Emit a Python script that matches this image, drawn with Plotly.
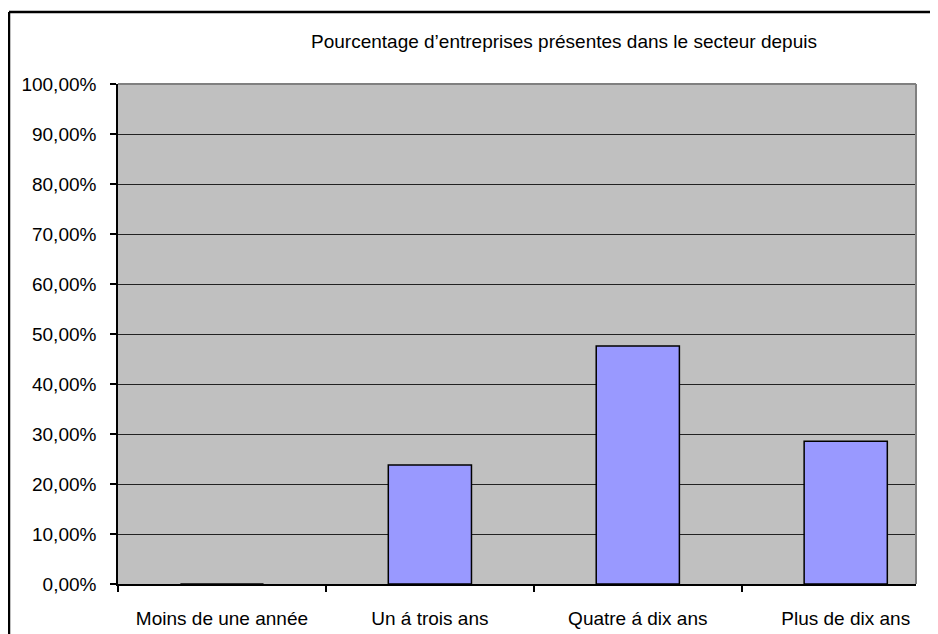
import plotly.graph_objects as go

categories = ['Moins de une année', 'Un á trois ans', 'Quatre á dix ans', 'Plus de dix ans']
pourcentages = [0.0, 0.2381, 0.4762, 0.2857]
titre = "Pourcentage d’entreprises présentes dans le secteur depuis"

police = dict(family='Liberation Sans, Arial, sans-serif', size=19, color='black')

# la page html ajoute une marge de 8 px autour de la figure
decalage = 8
gauche, haut, larg_zone, haut_zone = 118 - decalage, 84 - decalage, 798, 500

fig = go.Figure()
fig.add_trace(go.Bar(
    x=categories, y=pourcentages,
    width=0.4,
    marker=dict(color='#9999FF', line=dict(color='black', width=1.5)),
    hoverinfo='x+y'
))

fig.update_layout(
    width=938, height=634,
    margin=dict(l=gauche, r=938 - gauche - larg_zone, t=haut, b=634 - haut - haut_zone,
                autoexpand=False),
    paper_bgcolor='white',
    plot_bgcolor='#C0C0C0',
    separators=', ',
    showlegend=False,
    font=police,
    title=dict(text=titre, x=(564 - decalage) / 938, y=1 - (41.5 - decalage) / 634,
               xanchor='center', yanchor='middle', font=police, automargin=False),
)

fig.update_xaxes(
    range=[-0.5, 3.338],
    showgrid=False,
    ticks='outside', ticklen=6, tickcolor='black', tickwidth=1.5,
    tickson='boundaries',
    showline=True, linecolor='black', linewidth=1.5,
    ticklabelstandoff=16,
    tickfont=police,
    automargin=False,
)
fig.update_yaxes(
    range=[0, 1], dtick=0.1, tickformat='.2%',
    showgrid=True, gridcolor='#222222', gridwidth=1,
    ticks='outside', ticklen=6, tickcolor='black', tickwidth=1.5,
    showline=True, linecolor='black', linewidth=1.5,
    ticklabelstandoff=10,
    tickfont=police,
    zeroline=False,
    automargin=False,
)

# bordure grise du cadre du graphique (haut et droite)
fig.add_shape(type='line', xref='paper', yref='paper', x0=0, x1=1, y0=1, y1=1,
              line=dict(color='#808080', width=2))
fig.add_shape(type='line', xref='paper', yref='paper', x0=1, x1=1, y0=0, y1=1,
              line=dict(color='#808080', width=2))

# bordure noire de la zone du graphique (coupée à droite et en bas)
bord_x = (9 - 118) / larg_zone
bord_y = (584 - 12) / haut_zone
fig.add_shape(type='line', xref='paper', yref='paper',
              x0=bord_x, x1=(960 - 118) / larg_zone, y0=bord_y, y1=bord_y,
              line=dict(color='black', width=2.5))
fig.add_shape(type='line', xref='paper', yref='paper',
              x0=bord_x, x1=bord_x, y0=bord_y, y1=(584 - 660) / haut_zone,
              line=dict(color='black', width=2.5))

fig.write_html('out.html')
